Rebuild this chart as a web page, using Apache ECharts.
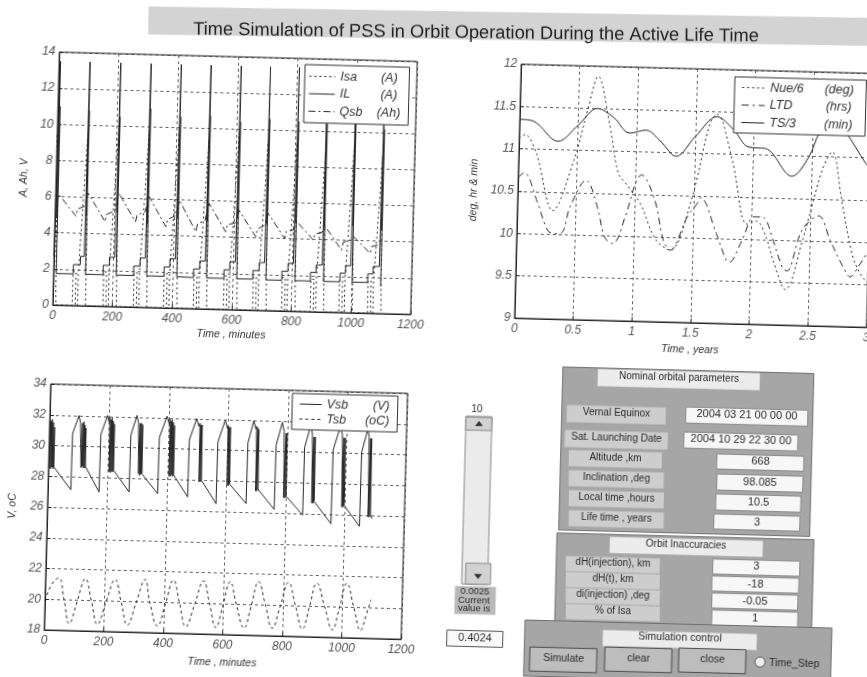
<!DOCTYPE html>
<html><head><meta charset="utf-8">
<script src="https://cdn.jsdelivr.net/npm/echarts/dist/echarts.min.js"></script>
<style>
html,body{margin:0;padding:0;background:#fff;overflow:hidden;width:867px;height:677px;}
#c{width:867px;height:677px;transform:rotate(1.5deg);transform-origin:433.5px 338.5px;background:#fff;}
</style></head><body><div id="c"></div>
<script>
// ---------- DATA ----------
const TITLE = 'Time Simulation of PSS in Orbit Operation During the Active Life Time';

// Plot 1 : currents / charge vs time (minutes)
const seriesNames1 = ['Isa', 'IL', 'Qsb'];
const units1 = ['(A)', '(A)', '(Ah)'];
const Isa = [
 [0,9.4],[10,0],
 [65,0],[65,1.9],[75,1.9],[75,0],[83,0],[83,1.9],[103,9.6],[110,0],
 [168,0],[168,1.9],[178,1.9],[178,0],[186,0],[186,1.9],[206,9.9],[213,0],
 [270,0],[270,1.9],[280,1.9],[280,0],[288,0],[288,1.9],[308,9.8],[315,0],
 [371,0],[371,1.9],[381,1.9],[381,0],[389,0],[389,1.9],[409,9.9],[416,0],
 [471,0],[471,1.85],[481,1.85],[481,0],[489,0],[489,1.85],[509,9.4],[516,0],
 [572,0],[572,1.85],[582,1.85],[582,0],[590,0],[590,1.85],[610,9.8],[617,0],
 [670,0],[670,1.85],[680,1.85],[680,0],[688,0],[688,1.85],[708,9.3],[715,0],
 [767,0],[767,1.85],[777,1.85],[777,0],[785,0],[785,1.85],[805,9.3],[812,0],
 [863,0],[863,1.8],[873,1.8],[873,0],[881,0],[881,1.8],[901,8.9],[908,0],
 [959,0],[959,1.8],[969,1.8],[969,0],[977,0],[977,1.8],[997,9.0],[1004,0],
 [1055,0],[1055,1.8],[1065,1.8],[1065,0],[1073,0],[1073,1.8],[1093,8.7],[1100,0]
];
const IL = [
 [0,2.7],[5,13.5],[6,4.8],[7,11.0],[9,1.75],
 [66,1.75],[66,2.27],[89,2.27],[89,2.73],[101,2.73],[104,13.5],[105,5.0],[106,10.8],[107,1.75],
 [166,1.75],[166,2.27],[186,2.27],[186,2.73],[204,2.73],[207,13.5],[208,5.2],[209,10.5],[210,1.75],
 [268,1.75],[268,2.27],[289,2.27],[289,2.73],[306,2.73],[309,13.5],[310,4.6],[311,11.0],[312,1.75],
 [370,1.75],[370,2.27],[389,2.27],[389,2.73],[407,2.73],[410,13.5],[411,5.0],[412,10.6],[413,1.75],
 [469,1.72],[469,2.2],[489,2.2],[489,2.65],[507,2.65],[510,13.5],[511,4.9],[512,10.7],[513,1.72],
 [571,1.72],[571,2.2],[590,2.2],[590,2.65],[608,2.65],[611,13.5],[612,5.1],[613,10.4],[614,1.72],
 [668,1.72],[668,2.2],[688,2.2],[688,2.65],[706,2.65],[709,13.5],[710,4.8],[711,10.6],[712,1.7],
 [765,1.7],[765,2.2],[785,2.2],[785,2.65],[803,2.65],[806,13.5],[807,4.9],[808,10.5],[809,1.7],
 [861,1.7],[861,2.18],[879,2.18],[879,2.6],[899,2.6],[902,13.5],[903,4.7],[904,10.4],[905,1.7],
 [960,1.7],[960,2.18],[978,2.18],[978,2.6],[995,2.6],[998,13.5],[999,4.8],[1000,10.5],[1001,1.7],
 [1053,1.7],[1053,2.18],[1070,2.18],[1070,2.6],[1091,2.6],[1094,13.5],[1095,4.6],[1096,10.2],[1097,1.5]
];
const Qsb = [
 [0,5.6],[12,6.1],[70,4.95],[75,5.35],[97,5.5],
 [109,6.24],[168,4.69],[173,5.1],[200,5.3],
 [212,6.28],[270,4.73],[275,5.1],[302,5.3],
 [314,6.13],[372,4.5],[377,4.9],[403,5.1],
 [415,5.99],[473,4.26],[478,4.7],[503,4.9],
 [515,5.85],[573,4.3],[578,4.7],[604,4.8],
 [616,5.52],[674,4.07],[679,4.5],[702,4.7],
 [714,5.38],[771,4.02],[776,4.4],[799,4.5],
 [811,4.96],[867,3.97],[872,4.3],[895,4.4],
 [907,4.72],[963,3.46],[968,3.9],[991,4.0],
 [1003,4.21],[1059,3.32],[1064,3.7],[1087,3.8],
 [1099,4.0]
];

// Plot 2 : orbit parameters vs time (years)
const seriesNames2 = ['Nue/6', 'LTD', 'TS/3'];
const units2 = ['(deg)', '(hrs)', '(min)'];
const Nue6 = [[0,11.12],[0.05,11.17],[0.15,10.95],[0.3,10.28],[0.48,10.93],[0.58,11.5],[0.66,11.88],[0.77,11.3],[0.85,10.75],[0.92,10.62],[1.05,10.38],[1.18,9.98],[1.31,9.85],[1.48,10.45],[1.62,11.35],[1.68,11.47],[1.82,10.93],[1.96,10.18],[2.04,10.22],[2.12,10.05],[2.19,9.76],[2.3,9.42],[2.44,10.03],[2.59,10.85],[2.67,11.06],[2.76,10.5],[2.86,9.87],[2.93,9.64],[3.0,9.52]];
const LTD = [[0,10.66],[0.05,10.72],[0.17,10.37],[0.26,10.05],[0.31,10.01],[0.38,10.02],[0.45,10.34],[0.58,10.65],[0.68,10.34],[0.75,9.98],[0.82,9.91],[0.92,10.23],[1.0,10.63],[1.05,10.73],[1.17,10.43],[1.25,9.96],[1.31,9.85],[1.45,10.25],[1.53,10.41],[1.56,10.48],[1.7,10.06],[1.79,9.75],[1.82,9.73],[1.92,9.99],[2.02,10.27],[2.09,10.27],[2.19,9.98],[2.27,9.68],[2.31,9.64],[2.43,10.13],[2.57,10.3],[2.67,10.02],[2.79,9.7],[2.85,9.59],[2.92,9.72],[3.0,9.9]];
const TS3 = [[0,11.35],[0.12,11.33],[0.33,11.1],[0.5,11.3],[0.66,11.5],[0.8,11.4],[0.94,11.22],[1.08,11.26],[1.2,11.14],[1.34,10.96],[1.5,11.2],[1.68,11.44],[1.82,11.3],[1.96,11.09],[2.1,11.08],[2.33,10.76],[2.47,10.99],[2.56,11.29],[2.67,11.45],[2.78,11.3],[2.96,10.93],[3.0,10.88]];

// Plot 3 : battery voltage / temperature vs time (minutes)
const seriesNames3 = ['Vsb', 'Tsb'];
const units3 = ['(V)', '(oC)'];
const Vsb = [
 [1,31.7],[3,28.5],[5,31.6],[7,28.5],[9,31.7],[11,28.6],[13,31.5],[15,28.5],[17,31.2],[18,28.6],
 [77,27.16],[78,30.8],[98,32.0],[101,31.95],[104,31.5],
 [107,31.6],[109,28.6],[111,31.5],[113,28.7],[115,31.6],[117,28.6],[119,31.4],[121,28.6],[123,31.2],[124,28.7],
 [172,27.06],[173,30.8],[194,32.05],[197,32.0],[200,31.6],
 [202,31.9],[204,28.4],[206,31.8],[208,28.35],[210,31.9],[212,28.4],[214,31.7],[216,28.4],[218,31.5],[219,28.5],
 [273,27.11],[274,30.8],[293,32.1],[296,32.05],[299,31.6],
 [301,31.7],[303,28.3],[305,31.6],[307,28.2],[309,31.6],[311,28.3],[313,31.5],[315,28.3],[317,28.4],
 [369,27.05],[370,30.7],[394,32.1],[398,32.0],[402,31.6],
 [404,31.9],[406,28.2],[408,31.8],[410,28.2],[412,31.9],[414,28.3],[416,31.7],[418,28.2],[420,31.5],[421,28.3],
 [470,26.89],[471,30.6],[494,32.0],[498,31.95],[502,31.5],
 [505,31.7],[507,27.9],[509,31.6],[511,27.9],[513,31.6],[515,28.0],[516,28.0],
 [566,26.5],[567,30.5],[590,31.95],[594,31.9],[598,31.4],
 [600,31.6],[602,27.7],[604,31.5],[606,27.7],[608,31.5],[610,27.8],[612,27.8],
 [667,26.56],[668,30.5],[686,31.95],[690,31.9],[694,31.4],
 [696,31.6],[698,27.4],[700,31.5],[702,27.4],[704,31.4],[706,27.5],[707,27.5],
 [762,26.23],[763,30.4],[782,31.9],[786,31.8],[789,31.3],
 [791,31.3],[793,27.0],[795,31.2],[797,27.0],[799,31.2],[801,27.1],[802,27.1],
 [858,25.91],[859,30.3],[878,31.8],[882,31.7],[884,31.2],
 [886,31.1],[888,26.7],[890,31.0],[892,26.7],[894,31.0],[896,26.8],[897,26.8],
 [954,25.39],[955,30.2],[977,31.7],[981,31.6],[985,31.2],
 [987,31.1],[989,26.5],[991,31.0],[993,26.5],[995,31.0],[997,26.6],[998,26.6],
 [1050,25.27],[1051,30.1],[1070,31.6],[1073,31.5],[1075,31.1],
 [1076,31.1],[1078,25.9],[1080,31.0],[1082,25.9],[1084,31.0],[1086,26.0],[1087,26.0],[1092,25.8]
];
const Tsb = [[0,19.9],[22,21.0],[44,21.4],[64,20.0],[83,18.45],[108,19.9],[134,21.4],[156,19.95],[178,18.45],[205,19.9],[234,21.4],[256,19.95],[279,18.45],[306,19.9],[335,21.45],[352,20.0],[380,18.45],[405,19.9],[430,21.45],[452,20.0],[475,18.45],[503,19.9],[531,21.45],[553,20.0],[576,18.45],[598,19.9],[621,21.45],[643,20.0],[671,18.45],[693,19.9],[716,21.5],[741,20.0],[766,18.5],[791,19.95],[817,21.5],[842,20.0],[867,18.5],[889,19.95],[912,21.5],[940,20.0],[968,18.5],[990,19.95],[1013,21.55],[1038,20.0],[1063,18.5],[1080,19.5],[1095,20.5]];

// Axis texts
const axisNames = {x1:'Time , minutes', y1:'A, Ah, V', x2:'Time , years', y2:'deg, hr & min', x3:'Time , minutes', y3:'V, oC'};

// GUI texts
const guiNominal = [['Vernal Equinox','2004 03 21 00 00 00'],['Sat. Launching Date','2004 10 29 22 30 00'],['Altitude ,km','668'],['Inclination ,deg','98.085'],['Local time ,hours','10.5'],['Life time , years','3']];
const guiInacc = [['dH(injection), km','3'],['dH(t), km','-18'],['di(injection) ,deg','-0.05'],['% of Isa','1']];
const guiButtons = ['Simulate','clear','close'];

// ---------- LAYOUT ----------
const ANG = 1.5*Math.PI/180, CX = 433.5, CY = 338.5;
function U(x,y){const dx=x-CX,dy=y-CY;return [CX+dx*Math.cos(ANG)+dy*Math.sin(ANG), CY-dx*Math.sin(ANG)+dy*Math.cos(ANG)];}
const FONT = '"Liberation Sans", Arial, sans-serif';
const INK = '#2a2a2a';

function rectR(x1,y1,x2,y2,fill,stroke){const p=U(x1,y1);return {type:'rect',shape:{x:p[0],y:p[1],width:x2-x1,height:y2-y1},style:{fill:fill,stroke:stroke||null,lineWidth:1}};}
function textR(cx,cy,s,size,align){const p=U(cx,cy);return {type:'text',x:p[0],y:p[1],style:{text:s,fill:INK,font:(size||10)+'px '+FONT,align:align||'center',verticalAlign:'middle'}};}

const PANEL='#a6a6a6', LBL='#cdcdcd', HDR='#ececec', VAL='#f7f7f7', EDGE='#6e6e6e';
const g = [];
// title band + title
g.push({type:'rect',shape:{x:140,y:14,width:740,height:28},rotation:0.6*Math.PI/180,originX:140,originY:14,style:{fill:'#d3d3d3'}});
g.push({type:'text',x:468,y:32,rotation:0.8*Math.PI/180,style:{text:TITLE,fill:'#1e1e1e',font:'18.3px '+FONT,align:'center',verticalAlign:'middle'}});
// Nominal panel
g.push(rectR(563,367,814,530,PANEL,EDGE));
g.push(rectR(598,369,760,386,HDR,null));
g.push(textR(679,378,'Nominal orbital parameters',10));
const nomLbl=[[567,405,666,422],[565,430,668,447],[569,450,662,466],[569,470,664,486],[569,490,664,506],[569,510,664,526]];
const nomVal=[[686,407,808,423],[684,432,798,448],[717,454,804,469],[717,474,803,490],[716,494,801,510],[714,514,800,529]];
guiNominal.forEach((r,i)=>{const a=nomLbl[i],b=nomVal[i];
 g.push(rectR(a[0],a[1],a[2],a[3],LBL,null));g.push(textR((a[0]+a[2])/2,(a[1]+a[3])/2,r[0],10));
 g.push(rectR(b[0],b[1],b[2],b[3],VAL,'#8a8a8a'));g.push(textR((b[0]+b[2])/2,(b[1]+b[3])/2+0.5,r[1],11));});
// Inaccuracies panel
g.push(rectR(557,533,814,628,PANEL,EDGE));
g.push(rectR(610,537,763,553,HDR,null));
g.push(textR(686,545,'Orbit Inaccuracies',10));
const inLbl=[[566,556,660,571],[566,572,660,587],[566,588,660,603],[566,604,660,619]];
const inVal=[[713,559,800,574],[712,576,799,591],[712,593,798,608],[712,610,798,625]];
guiInacc.forEach((r,i)=>{const a=inLbl[i],b=inVal[i];
 g.push(rectR(a[0],a[1],a[2],a[3],LBL,null));g.push(textR((a[0]+a[2])/2,(a[1]+a[3])/2,r[0],10));
 g.push(rectR(b[0],b[1],b[2],b[3],VAL,'#8a8a8a'));g.push(textR((b[0]+b[2])/2,(b[1]+b[3])/2+0.5,r[1],11));});
// Simulation control panel
g.push(rectR(525,620,832,676,PANEL,EDGE));
g.push(rectR(603,630,757,646,HDR,null));
g.push(textR(680,638,'Simulation control',10.5));
const btn=[[530,647,597,671],[605,647,672,671],[679,648,746,672]];
guiButtons.forEach((s,i)=>{const b=btn[i];g.push(rectR(b[0],b[1],b[2],b[3],'#bdbdbd','#4a4a4a'));g.push(textR((b[0]+b[2])/2,(b[1]+b[3])/2,s,10.5));});
(function(){const p=U(760,662);g.push({type:'circle',shape:{cx:p[0],cy:p[1],r:5},style:{fill:'#f0f0f0',stroke:'#555',lineWidth:1}});})();
g.push(textR(769,663,'Time_Step',10.5,'left'));
// slider
g.push(textR(477,409,'10',10));
g.push(rectR(466,416,492,584,'#ebebeb','#8a8a8a'));
g.push(rectR(466,417,492,430,'#d2d2d2','#8a8a8a'));
g.push(rectR(466,563,491,584,'#d2d2d2','#8a8a8a'));
(function(){const a=U(475,426),b=U(483,426),c=U(479,421);g.push({type:'polygon',shape:{points:[a,b,c]},style:{fill:'#333'}});
 const d=U(474,574),e=U(482,574),f=U(478,579);g.push({type:'polygon',shape:{points:[d,e,f]},style:{fill:'#333'}});})();
g.push(rectR(455,586,496,614,'#b9b9b9',null));
g.push(textR(475,592,'0.0025',9.5));
g.push(textR(474,600.5,'Current',9.5));
g.push(textR(474,609,'value is',9.5));
g.push(rectR(447,630,503,646,'#fafafa','#555'));
g.push(textR(475,638,'0.4024',11));

// ---------- CHART ----------
const LINE='#262626';
function xAx(gi,min,max,iv,name,gap){return {type:'value',gridIndex:gi,min:min,max:max,interval:iv,
 axisLine:{show:true,lineStyle:{color:'#222',width:1}},axisTick:{inside:true,length:4,lineStyle:{color:'#222'}},
 axisLabel:{color:'#555',fontSize:12,fontStyle:'italic',fontFamily:FONT,margin:5,formatter:function(v){return String(v);}},
 splitLine:{show:true,lineStyle:{type:[3,3],color:'#3a3a3a',width:0.8}},
 name:name,nameLocation:'middle',nameGap:gap,nameMoveOverlap:false,nameTextStyle:{fontStyle:'italic',fontSize:10.5,color:'#333',fontFamily:FONT}};}
function yAx(gi,min,max,iv,name,gap){const a=xAx(gi,min,max,iv,name,gap);a.nameRotate=90;a.axisLabel.margin=4;return a;}
function ser(name,xi,data,type,smooth){return {name:name,type:'line',xAxisIndex:xi,yAxisIndex:xi,data:data,symbol:'none',showSymbol:false,smooth:smooth||false,
 lineStyle:{color:LINE,width:1,type:type},itemStyle:{color:LINE},animation:false,silent:true};}
function leg(names,units,left,top,iw,nw,uw,ualign,pad,ih,gap){const um={};names.forEach((n,i)=>um[n]=units[i]);
 return {data:names,left:left,top:top,orient:'vertical',itemWidth:iw,itemHeight:ih,itemGap:gap,padding:pad,
 borderColor:'#333',borderWidth:1,backgroundColor:'#fff',selectedMode:false,
 itemStyle:{opacity:0,borderWidth:0},
 lineStyle:{width:1},
 textStyle:{color:'#333',fontStyle:'italic',fontSize:12.5,fontFamily:FONT,
  rich:{n:{width:nw,fontStyle:'italic',fontSize:12.5,fontFamily:FONT,color:'#333',lineHeight:13},
        u:{width:uw,align:ualign,fontStyle:'italic',fontSize:12.5,fontFamily:FONT,color:'#333',lineHeight:13}}},
 formatter:function(n){return '{n|'+n+'}{u|'+um[n]+'}';}};}

const gridBase={show:true,borderColor:'#222',borderWidth:1,backgroundColor:'#fff',containLabel:false,outerBoundsMode:'none'};
const option={
 animation:false,
 backgroundColor:'#fff',
 graphic:g,
 grid:[
  Object.assign({left:52,top:62,width:358,height:253},gridBase),
  Object.assign({left:514,top:62,width:352,height:254},gridBase),
  Object.assign({left:52,top:394,width:357,height:246},gridBase)
 ],
 xAxis:[xAx(0,0,1200,200,axisNames.x1,20),xAx(1,0,3,0.5,axisNames.x2,22),xAx(2,0,1200,200,axisNames.x3,23)],
 yAxis:[yAx(0,0,14,2,axisNames.y1,26),yAx(1,9,12,0.5,axisNames.y2,38),yAx(2,18,34,2,axisNames.y3,29)],
 legend:[
  leg(seriesNames1,units1,298,68,26,35,28,'center',[5,6,5,4],12,4.5),
  leg(seriesNames2,units2,728,69,23,52,34,'center',[4,10,4,7],12,4.5),
  leg(seriesNames3,units3,294,397,22,30,33,'right',[4,8,4,7],12,2)
 ],
 series:[
  ser('Isa',0,Isa,[2,3]),
  ser('IL',0,IL,'solid'),
  ser('Qsb',0,Qsb,[7,3,2,3]),
  ser('Nue/6',1,Nue6,[2,3],0.35),
  ser('LTD',1,LTD,[7,4,2,4],0.35),
  ser('TS/3',1,TS3,'solid',0.35),
  ser('Vsb',2,Vsb,'solid'),
  ser('Tsb',2,Tsb,[3,3],0.45)
 ]
};
const chart=echarts.init(document.getElementById('c'),null,{renderer:'canvas'});
chart.setOption(option);
</script></body></html>
